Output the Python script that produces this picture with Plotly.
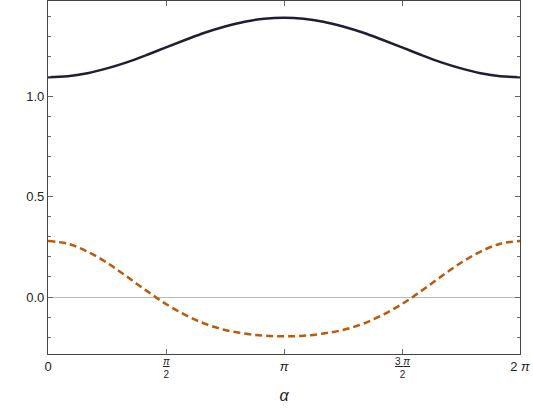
import numpy as np
import plotly.graph_objects as go

# alpha sampled every pi/12 over [0, pi]; both curves are symmetric about pi
alpha_half = [k * np.pi / 12 for k in range(13)]
upper_half = [1.096, 1.101, 1.116, 1.140, 1.170, 1.206, 1.245,
              1.283, 1.319, 1.349, 1.373, 1.388, 1.393]
lower_half = [0.279, 0.266, 0.227, 0.171, 0.103, 0.032, -0.035,
              -0.090, -0.134, -0.164, -0.182, -0.193, -0.196]

alpha = alpha_half + [2 * np.pi - a for a in alpha_half[-2::-1]]
upper = upper_half + upper_half[-2::-1]
lower = lower_half + lower_half[-2::-1]

x_ticks = [0, np.pi / 2, np.pi, 3 * np.pi / 2, 2 * np.pi]
x_ticktext = ["0", "", "<i>π</i>", "", "2 <i>π</i>"]
# stacked fractions drawn as annotations so they can sit a little higher
frac_pos = [np.pi / 2, 3 * np.pi / 2]
frac_text = ["<span style='text-decoration:underline'><i>π</i></span><br>2",
             "<span style='text-decoration:underline'>3 <i>π</i></span><br>2"]
y_ticks = [0.0, 0.5, 1.0]
y_ticktext = ["0.0", "0.5", "1.0"]

fig = go.Figure()
fig.add_trace(go.Scatter(x=alpha, y=upper, mode="lines", line_shape="spline",
                         line=dict(color="#221d30", width=2.5)))
fig.add_trace(go.Scatter(x=alpha, y=lower, mode="lines", line_shape="spline",
                         line=dict(color="#bb5a0b", width=2.5, dash="7px,4px")))

for xp, txt in zip(frac_pos, frac_text):
    fig.add_annotation(x=xp, xref="x", y=0, yref="paper", yanchor="top",
                       text=txt, showarrow=False, yshift=0,
                       font=dict(size=10, color="#222"))

fig.update_layout(
    width=533, height=409,
    plot_bgcolor="white", paper_bgcolor="white",
    margin=dict(l=48, r=13, t=1, b=55),
    showlegend=False,
    font=dict(family="Liberation Sans", size=13, color="#222"),
)
fig.update_xaxes(
    range=[0, 2 * np.pi], tickvals=x_ticks, ticktext=x_ticktext,
    showgrid=False, zeroline=False, automargin=False,
    showline=True, linecolor="#444", linewidth=1.3, mirror="ticks",
    ticks="inside", ticklen=5, tickcolor="#666",
    title=dict(text="<i>α</i>", standoff=17),
)
fig.update_yaxes(
    range=[-0.284, 1.476], tickvals=y_ticks, ticktext=y_ticktext,
    showgrid=False, zeroline=True, zerolinecolor="#bbbbbb", zerolinewidth=1,
    showline=True, linecolor="#444", linewidth=1.3, mirror="ticks",
    ticks="inside", ticklen=5, tickcolor="#666", automargin=False,
    minor=dict(dtick=0.1, tick0=0, ticks="inside", ticklen=3, tickcolor="#666"),
)

# drop the browser's default 8px body margin so the figure sits at the page corner
fig.write_html("out.html", config={"displayModeBar": False},
               post_script="document.body.style.margin='0';")
